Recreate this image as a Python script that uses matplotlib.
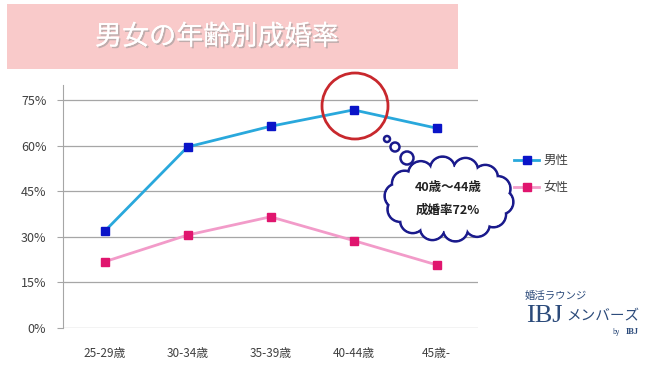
import matplotlib
matplotlib.use("Agg")
import matplotlib.pyplot as plt
import matplotlib.patheffects as pe
from matplotlib.patches import Circle, Rectangle, Ellipse
import numpy as np

plt.rcParams['font.family'] = ['Noto Sans CJK JP', 'DejaVu Sans']

categories = ["25-29歳", "30-34歳", "35-39歳", "40-44歳", "45歳-"]
male = [31.8, 59.6, 66.4, 71.8, 65.8]
female = [21.8, 30.6, 36.6, 28.8, 20.8]
yticks = [0, 15, 30, 45, 60, 75]
title = "男女の年齢別成婚率"
series_names = ["男性", "女性"]
callout = ["40歳～44歳", "成婚率72%"]

W, H = 650, 365
fig = plt.figure(figsize=(6.5, 3.65), dpi=100)
fig.patch.set_facecolor("white")

# main axes
left, right, bottom_px, top_px = 63, 478, 328, 85
ax = fig.add_axes([left / W, (H - bottom_px) / H, (right - left) / W, (bottom_px - top_px) / H])
x = np.arange(len(categories))
ax.plot(x, male, color="#29a8dc", lw=2, marker="s", ms=6, mfc="#0a14c8", mec="#0a14c8", label=series_names[0], zorder=3)
ax.plot(x, female, color="#f29bc9", lw=2, marker="s", ms=6, mfc="#e0156e", mec="#e0156e", label=series_names[1], zorder=3)
ax.set_xlim(-0.5, len(categories) - 0.5)
ax.set_ylim(0, 80)
ax.set_yticks(yticks)
ax.set_yticklabels([f"{v}%" for v in yticks])
ax.set_xticks(x)
ax.set_xticklabels(categories)
ax.grid(axis="y", color="#a6a6a6", lw=0.9)
ax.set_axisbelow(True)
for s in ["top", "right", "bottom"]:
    ax.spines[s].set_visible(False)
ax.spines["left"].set_color("#a6a6a6")
ax.tick_params(axis="y", colors="#a6a6a6", length=4, labelcolor="#404040", labelsize=9, pad=8)
ax.tick_params(axis="x", length=0, labelcolor="#404040", labelsize=8.5, pad=14)

leg = fig.legend(loc="upper left", bbox_to_anchor=(503 / W, 1 - 143 / H), frameon=False,
                 handlelength=2.0, labelspacing=1.1, fontsize=9, handletextpad=0.3)
for t in leg.get_texts():
    t.set_color("#404040")

# overlay in pixel coordinates
ov = fig.add_axes([0, 0, 1, 1], zorder=5)
ov.set_xlim(0, W)
ov.set_ylim(H, 0)
ov.axis("off")
ov.patch.set_alpha(0)

# title band
ov.add_patch(Rectangle((7, 4), 451, 65, facecolor="#f9caca", edgecolor="none", zorder=1))
ov.text(217, 37, title, fontsize=19.5, color="white", ha="center", va="center", zorder=2,
        path_effects=[pe.withSimplePatchShadow(offset=(1.2, -1.2), shadow_rgbFace="#999999", alpha=0.6), pe.Normal()])

# red circle
ov.add_patch(Circle((355, 106), 33, facecolor="none", edgecolor="#c8282d", lw=2, zorder=3))

# thought bubbles
for cx, cy, r in [(387, 139, 3), (395, 147, 4.5), (407, 158, 6.5)]:
    ov.add_patch(Circle((cx, cy), r, facecolor="white", edgecolor="#1a1a8c", lw=1.8, zorder=3))

# cloud
ecx, ecy, rx, ry = 449, 199, 52, 30
n = 14
angs = np.linspace(0, 2 * np.pi, n, endpoint=False) + 0.1
bumps = [(ecx + rx * np.cos(a), ecy + ry * np.sin(a), 12.5) for a in angs]
for cx, cy, r in bumps:
    ov.add_patch(Circle((cx, cy), r, facecolor="white", edgecolor="#1a1a8c", lw=2, zorder=3))
for cx, cy, r in bumps:
    ov.add_patch(Circle((cx, cy), r - 1.2, facecolor="white", edgecolor="none", zorder=4))
ov.add_patch(Ellipse((ecx, ecy), 2 * rx + 4, 2 * ry + 4, facecolor="white", edgecolor="none", zorder=4))
ov.text(448, 187, callout[0], fontsize=9, fontweight="bold", ha="center", va="center", color="#222222", zorder=5)
ov.text(448, 210, callout[1], fontsize=9, fontweight="bold", ha="center", va="center", color="#222222", zorder=5)

# logo
logo_c = "#2b4a7a"
ov.text(525, 296, "婚活ラウンジ", fontsize=7.5, color=logo_c, ha="left", va="center")
ov.text(526, 316, "IBJ", fontsize=19, color=logo_c, ha="left", va="center", family="Liberation Serif")
ov.text(566, 316, "メンバーズ", fontsize=10.5, color=logo_c, ha="left", va="center")
ov.text(612, 332, "by", fontsize=4.5, color=logo_c, ha="left", va="center")
ov.text(626, 332, "IBJ", fontsize=6, color=logo_c, ha="left", va="center", family="Liberation Serif", fontweight="bold")

fig.savefig("out.png", dpi=100)
